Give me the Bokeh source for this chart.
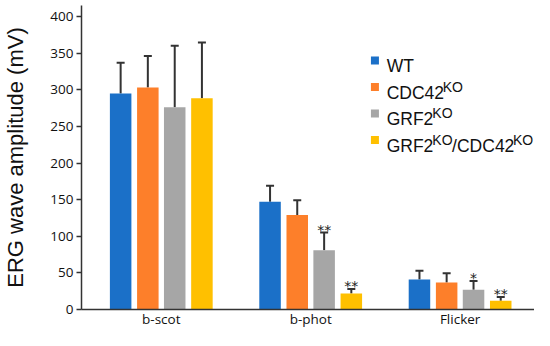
from bokeh.plotting import figure
from bokeh.models import ColumnDataSource, Whisker, TeeHead, FixedTicker, Label, Range1d
from bokeh.core.properties import value
from bokeh.embed import file_html
from bokeh.resources import INLINE

# ---- data ----
categories = ["b-scot", "b-phot", "Flicker"]
series_names = ["WT", "CDC42", "GRF2", "GRF2/CDC42"]
wt = [295, 147, 41]
wt_err = [42, 22, 12]
cdc42 = [303, 129, 37]
cdc42_err = [43, 20, 12.5]
grf2 = [276, 81, 27]
grf2_err = [84, 24, 12]
dko = [288.5, 22, 12]
dko_err = [76, 6, 5]
grf2_sig = ["", "**", "*"]
dko_sig = ["", "**", "**"]
wt_sig = ["", "", ""]
cdc42_sig = ["", "", ""]
y_ticks = [0, 50, 100, 150, 200, 250, 300, 350, 400]

colors = ["#1B70C8", "#FD7F2A", "#A6A6A6", "#FFC000"]
offsets = [-0.272, -0.09, 0.09, 0.272]
bar_w = 0.144

FRAME_BOTTOM = 309
PX_PER_UNIT = 0.7325

p = figure(width=534, height=330, output_backend="svg", toolbar_location=None,
           x_range=Range1d(-0.534, 2.498), y_range=Range1d(0, (FRAME_BOTTOM - 5) / PX_PER_UNIT),
           min_border_left=71, min_border_right=0, min_border_top=5, min_border_bottom=21,
           outline_line_color=None)
p.grid.visible = False
p.background_fill_color = "white"
p.border_fill_color = "white"

all_vals = [wt, cdc42, grf2, dko]
all_errs = [wt_err, cdc42_err, grf2_err, dko_err]
all_sigs = [wt_sig, cdc42_sig, grf2_sig, dko_sig]

for vals, errs, sigs, off, col in zip(all_vals, all_errs, all_sigs, offsets, colors):
    xs = [i + off for i in range(len(categories))]
    src = ColumnDataSource(dict(x=xs, top=vals, upper=[v + e for v, e in zip(vals, errs)], sig=sigs))
    p.vbar(x="x", top="top", width=bar_w, bottom=0, source=src, fill_color=col, line_color=None)
    w = Whisker(base="x", lower="top", upper="upper", source=src, dimension="height",
                line_color="#333333", line_width=2,
                upper_head=TeeHead(size=8, line_color="#333333", line_width=2), lower_head=None)
    p.add_layout(w)
    p.text(x="x", y="upper", text="sig", source=src, text_align="center",
           text_baseline="alphabetic", text_font=value("DejaVu Sans"), text_font_size="14px",
           text_color="#222222", y_offset=-3)

# axes
p.xaxis.ticker = FixedTicker(ticks=list(range(len(categories))))
p.xaxis.major_label_overrides = {i: c for i, c in enumerate(categories)}
p.xaxis.major_tick_out = 0
p.xaxis.major_tick_in = 0
p.xaxis.minor_tick_out = 0
p.xaxis.minor_tick_in = 0
p.xaxis.major_label_standoff = 0
p.xaxis.major_label_text_font = "Open Sans"
p.xaxis.major_label_text_font_size = "13.5px"
p.xaxis.major_label_text_color = "#111111"
p.xaxis.axis_line_color = "#333333"
p.xaxis.axis_line_width = 1.5

p.yaxis.ticker = FixedTicker(ticks=y_ticks)
p.yaxis.major_tick_out = 5
p.yaxis.major_tick_in = 0
p.yaxis.minor_tick_out = 0
p.yaxis.minor_tick_in = 0
p.yaxis.major_tick_line_color = "#333333"
p.yaxis.major_tick_line_width = 1.5
p.yaxis.major_label_standoff = 3
p.yaxis.major_label_text_font = "Open Sans"
p.yaxis.major_label_text_font_size = "13.5px"
p.yaxis.major_label_text_color = "#111111"
p.yaxis.axis_line_color = "#333333"
p.yaxis.axis_line_width = 1.5
p.yaxis.axis_label = "ERG wave amplitude (mV)"
p.yaxis.axis_label_text_font = "Liberation Sans"
p.yaxis.axis_label_text_font_size = "22px"
p.yaxis.axis_label_text_font_style = "normal"
p.yaxis.axis_label_text_color = "#111111"
p.yaxis.axis_label_standoff = 19

# ---- legend (drawn manually for superscripts) ----
def dx(px):
    return (px - 71) / 152.75 - 0.534

def dy(py):
    return (FRAME_BOTTOM - py) / PX_PER_UNIT

arial_w = {"C": .722, "D": .722, "G": .778, "R": .722, "F": .611, "K": .667, "O": .778,
           "W": .944, "T": .611, "2": .556, "4": .556, "/": .278}

def tw(s, size):
    return sum(arial_w[c] for c in s) * size

main_fs = 17.5
sup_fs = 14
legend_parts = [
    [("WT", False)],
    [("CDC42", False), ("KO", True)],
    [("GRF2", False), ("KO", True)],
    [("GRF2", False), ("KO", True), ("/CDC42", False), ("KO", True)],
]
row_centers = [60, 86.5, 113, 139.5]
sq_x = [dx(371)] * 4
sq_y = [dy(c) for c in row_centers]
p.scatter(x=sq_x, y=sq_y, marker="square", size=8, fill_color=colors, line_color=None)
for parts, cy in zip(legend_parts, row_centers):
    xpx = 383
    base = cy + 5.5
    for txt, sup in parts:
        fs = sup_fs if sup else main_fs
        ypx = base - 6 if sup else base
        p.add_layout(Label(x=dx(xpx), y=dy(ypx), text=txt, text_font="Liberation Sans",
                           text_font_size=f"{fs}px", text_baseline="alphabetic",
                           text_align="left", text_color="#111111"))
        xpx += tw(txt, fs)

open("out.html", "w").write(file_html(p, INLINE))
